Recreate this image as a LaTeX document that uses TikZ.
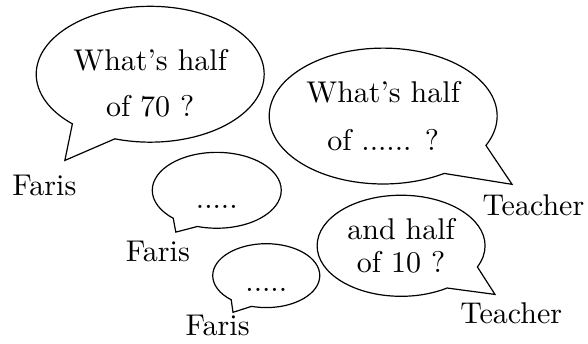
\documentclass[tikz,border=0pt]{standalone}
\usetikzlibrary{shapes.callouts}
\tikzset{
  bubble/.style={ellipse callout,draw,callout pointer arc=25,inner sep=0pt,align=center},
  who/.style={anchor=base,inner sep=0pt},
}
\begin{document}
\begin{tikzpicture}
  \useasboundingbox (0,0) rectangle (6.89,4.02);
  % tips of the pointers
  \coordinate (t1) at (0.76,2.14);
  \coordinate (t2) at (6.00,1.86);
  \coordinate (t3) at (2.06,1.30);
  \coordinate (t4) at (2.73,0.36);
  \coordinate (t5) at (5.80,0.57);
  % speakers
  \node[who] (faris1) at (0.52,1.73) {Faris};
  \node[who] (teacher1) at (6.25,1.49) {Teacher};
  \node[who] (faris2) at (1.85,0.95) {Faris};
  \node[who] (faris3) at (2.55,0.09) {Faris};
  \node[who] (teacher2) at (5.99,0.23) {Teacher};
  % what they say
  \node[bubble,minimum width=76pt,minimum height=45.3pt,text height=28.5pt,
        callout absolute pointer={(t1)}] (q1) at (1.76,3.15) {What's half\\[3.5pt] of 70 ?};
  \node[bubble,minimum width=76pt,minimum height=45.3pt,callout pointer arc=32,
        callout absolute pointer={(t2)}] (q2) at (4.49,2.66) {What's half\\[4pt] of ...... ?};
  \node[bubble,minimum width=43pt,minimum height=25.3pt,text height=12pt,text depth=0pt,
        callout absolute pointer={(t3)}] (a1) at (2.54,1.79) {.....};
  \node[bubble,minimum width=35.7pt,minimum height=21.3pt,text height=10.8pt,text depth=0pt,
        callout absolute pointer={(t4)}] (a2) at (3.12,0.79) {.....};
  \node[bubble,minimum width=56pt,minimum height=33.7pt,callout pointer arc=32,
        callout absolute pointer={(t5)}] (q3) at (4.70,1.14) {and half\\[-1pt] of 10 ?};
\end{tikzpicture}
\end{document}
